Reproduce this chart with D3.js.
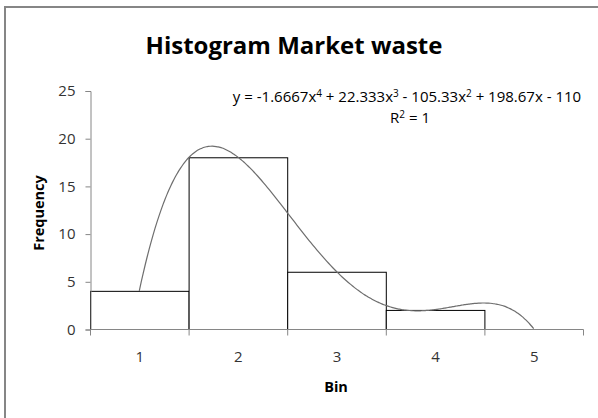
<!DOCTYPE html>
<html>
<head>
<meta charset="utf-8">
<script src="https://cdn.jsdelivr.net/npm/d3@7"></script>
<style>
  body { margin: 0; background: #fff; overflow: hidden; }
  text { font-family: "Open Sans", "Liberation Sans", sans-serif; }
</style>
</head>
<body>
<svg id="chart" width="598" height="418"></svg>
<script>
// data
const bins = [1, 2, 3, 4, 5];
const frequency = [4, 18, 6, 2, 0];
const yTicks = [0, 5, 10, 15, 20, 25];
// polynomial trendline coefficients, highest power first (from the label)
const trendCoef = [-1.6667, 22.333, -105.33, 198.67, -110];
const rSquared = 1;

const svg = d3.select('#chart');
const W = 598, H = 418;
const m = {left: 90, right: 15, top: 90.5, bottom: 89};

// outer chart border (only top/left edges show inside the window)
svg.append('rect')
    .attr('x', 5).attr('y', 7)
    .attr('width', W + 10).attr('height', H + 10)
    .attr('fill', '#fff')
    .attr('stroke', '#868686')
    .attr('stroke-width', 2);

const x = d3.scaleBand()
    .domain(bins)
    .range([m.left, W - m.right])
    .paddingInner(0).paddingOuter(0);

const y = d3.scaleLinear()
    .domain([0, 25])
    .range([H - m.bottom, m.top]);

// bars
svg.append('g').selectAll('rect')
    .data(bins.map((b, i) => ({bin: b, v: frequency[i]})).filter(d => d.v > 0))
    .enter().append('rect')
    .attr('x', d => x(d.bin) + 0.5)
    .attr('y', d => y(d.v) + 0.5)
    .attr('width', x.bandwidth())
    .attr('height', d => y(0) - y(d.v))
    .attr('fill', '#fff')
    .attr('stroke', '#000')
    .attr('stroke-width', 1);

// y axis
const yAxis = svg.append('g')
    .attr('transform', `translate(${m.left + 0.5},0.5)`)
    .call(d3.axisLeft(y).tickValues(yTicks).tickSize(5).tickPadding(10));
yAxis.select('.domain').attr('stroke', '#868686');
yAxis.selectAll('.tick line').attr('stroke', '#868686');
yAxis.selectAll('.tick text')
    .attr('fill', '#333')
    .style('font-size', '15px');

// x axis (ticks at bin boundaries like excel)
const xAxis = svg.append('g')
    .attr('transform', `translate(0.5,${y(0) + 0.5})`);
xAxis.append('line')
    .attr('x1', m.left).attr('x2', W - m.right)
    .attr('stroke', '#868686');
const edges = bins.map(b => x(b)).concat([x(bins[bins.length - 1]) + x.bandwidth()]);
xAxis.selectAll('line.tk')
    .data(edges)
    .enter().append('line')
    .attr('class', 'tk')
    .attr('x1', d => d).attr('x2', d => d)
    .attr('y1', 0).attr('y2', 6)
    .attr('stroke', '#868686');
xAxis.selectAll('text')
    .data(bins)
    .enter().append('text')
    .attr('x', d => x(d) + x.bandwidth() / 2)
    .attr('y', 32)
    .attr('text-anchor', 'middle')
    .attr('fill', '#333')
    .style('font-size', '15px')
    .text(d => d);

// trendline from bin 1 centre to bin 5 centre
const poly = t => trendCoef.reduce((acc, c) => acc * t + c, 0);
const tScale = d3.scaleLinear()
    .domain([1, 5])
    .range([x(1) + x.bandwidth() / 2, x(5) + x.bandwidth() / 2]);
const curvePts = d3.range(1, 5.0001, 0.02).map(t => [tScale(t), y(poly(t))]);
svg.append('path')
    .attr('d', d3.line().curve(d3.curveMonotoneX)(curvePts))
    .attr('fill', 'none')
    .attr('stroke', '#6e6e6e')
    .attr('stroke-width', 1.2);

// title
svg.append('text')
    .attr('x', 294).attr('y', 54)
    .attr('text-anchor', 'middle')
    .style('font-size', '24px')
    .style('font-weight', 'bold')
    .attr('fill', '#000')
    .text('Histogram Market waste');

// equation label
const fmt = v => Math.abs(v).toString();
const eq = svg.append('text')
    .attr('x', 407).attr('y', 102)
    .attr('text-anchor', 'middle')
    .style('font-size', '15px')
    .attr('fill', '#000');
eq.append('tspan').text('y = ' + (trendCoef[0] < 0 ? '-' : '') + fmt(trendCoef[0]) + 'x');
eq.append('tspan').attr('dy', -5).style('font-size', '10px').text('4');
eq.append('tspan').attr('dy', 5).text(' + ' + fmt(trendCoef[1]) + 'x');
eq.append('tspan').attr('dy', -5).style('font-size', '10px').text('3');
eq.append('tspan').attr('dy', 5).text(' - ' + fmt(trendCoef[2]) + 'x');
eq.append('tspan').attr('dy', -5).style('font-size', '10px').text('2');
eq.append('tspan').attr('dy', 5).text(' + ' + fmt(trendCoef[3]) + 'x - ' + fmt(trendCoef[4]));

const r2 = svg.append('text')
    .attr('x', 410).attr('y', 123)
    .attr('text-anchor', 'middle')
    .style('font-size', '15px')
    .attr('fill', '#000');
r2.append('tspan').text('R');
r2.append('tspan').attr('dy', -5).style('font-size', '10px').text('2');
r2.append('tspan').attr('dy', 5).text(' = ' + rSquared);

// axis titles
svg.append('text')
    .attr('transform', 'translate(44,213) rotate(-90)')
    .attr('text-anchor', 'middle')
    .style('font-size', '14.5px')
    .style('font-weight', 'bold')
    .text('Frequency');

svg.append('text')
    .attr('x', 336).attr('y', 392)
    .attr('text-anchor', 'middle')
    .style('font-size', '14.5px')
    .style('font-weight', 'bold')
    .text('Bin');
</script>
</body>
</html>
